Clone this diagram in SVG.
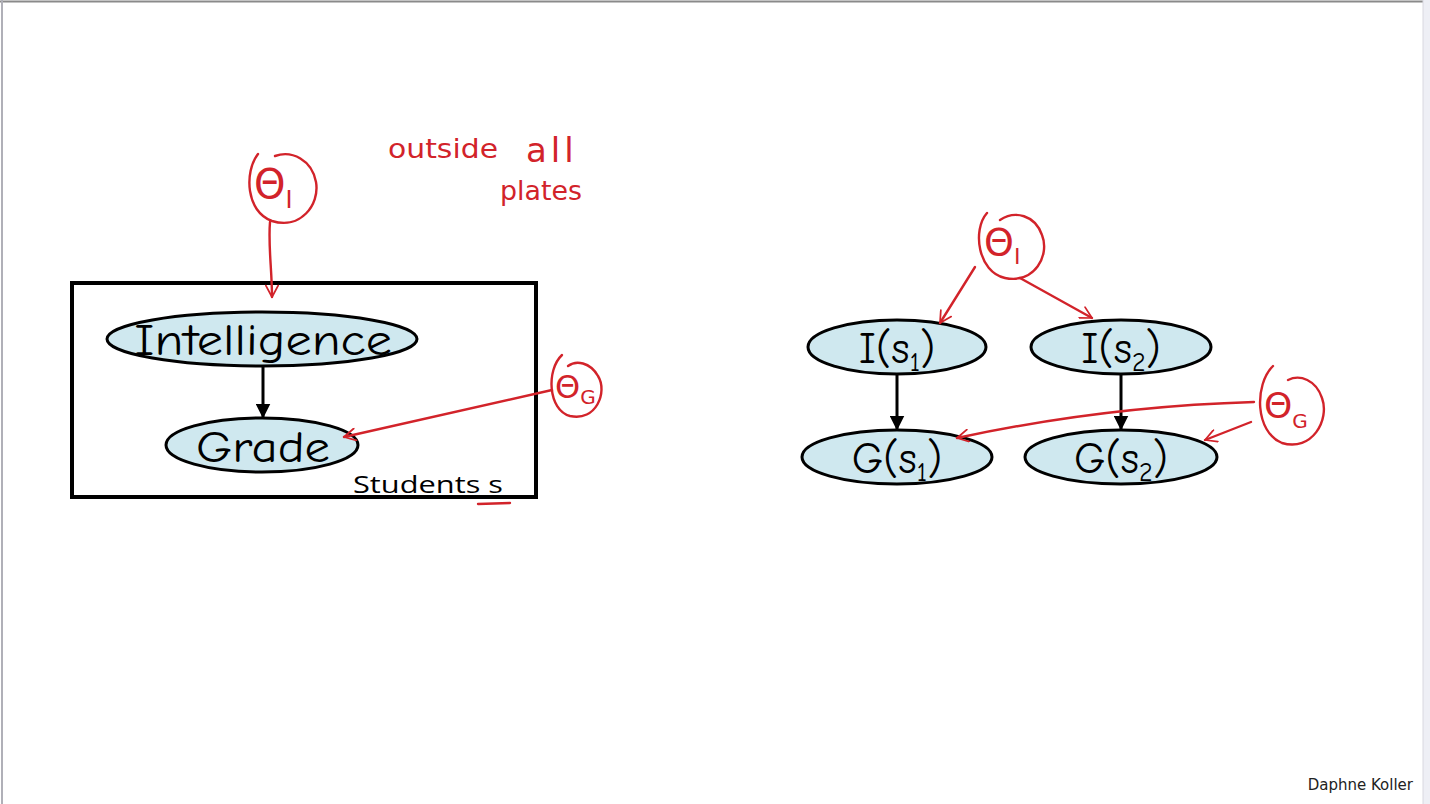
<svg xmlns="http://www.w3.org/2000/svg" width="1430" height="804" viewBox="0 0 1430 804">
<style>
.node{fill:#cfe8ef;stroke:#000;stroke-width:3}
.lbl{font-family:"Comic Neue","DejaVu Sans","Liberation Sans",sans-serif;fill:#000;text-anchor:middle}
.red{fill:none;stroke:#d2232a;stroke-width:2.4;stroke-linecap:round;stroke-linejoin:round}
.hand{font-family:"DejaVu Sans","Liberation Sans",sans-serif;fill:#d2232a}
.edge{stroke:#000;stroke-width:3;fill:none}
</style>
<defs>
<marker id="ah" viewBox="0 0 10 10" refX="9" refY="5" markerWidth="5" markerHeight="5" orient="auto">
<path d="M0 0 L10 5 L0 10 Z" fill="#000"/>
</marker>
<marker id="rh" viewBox="0 0 16 16" refX="15" refY="8" markerWidth="14" markerHeight="14" orient="auto" markerUnits="userSpaceOnUse">
<path d="M2 1 L15 8 L2 15" fill="none" stroke="#d2232a" stroke-width="2" stroke-linecap="round" stroke-linejoin="round"/>
</marker>
</defs>
<rect x="0" y="0" width="1430" height="804" fill="#fff"/>
<g id="frame">
<line x1="0" y1="1.5" x2="1423" y2="1.5" stroke="#8a8a8a" stroke-width="2"/>
<line x1="2" y1="0" x2="2" y2="804" stroke="#b0b0b8" stroke-width="2"/>
<rect x="1423" y="0" width="7" height="804" fill="#eeeff5"/>
<line x1="1423" y1="0" x2="1423" y2="804" stroke="#d8d8e0" stroke-width="1"/>
</g>

<g id="plate">
<rect x="72" y="283" width="464" height="214" fill="none" stroke="#000" stroke-width="4"/>
<text x="353" y="493" font-family="'Open Sans','Liberation Sans',sans-serif" font-size="23" fill="#000" textLength="150" lengthAdjust="spacingAndGlyphs">Students s</text>
<path class="red" d="M478 504 L510 503" stroke-width="3.5"/>
</g>

<g id="intelligence">
<ellipse class="node" cx="262" cy="339" rx="155" ry="27"/>
<text class="lbl" x="263" y="355" font-size="44" textLength="258" lengthAdjust="spacingAndGlyphs">Intelligence</text>
</g>
<g id="grade">
<ellipse class="node" cx="262" cy="445" rx="96" ry="27"/>
<text class="lbl" x="263" y="462" font-size="44" textLength="134" lengthAdjust="spacingAndGlyphs">Grade</text>
</g>

<g id="i_s1">
<ellipse class="node" cx="897" cy="347" rx="89" ry="27"/>
<text class="lbl" x="897" y="363" font-size="44">I(s<tspan font-size="26" dy="8">1</tspan><tspan dy="-8">)</tspan></text>
</g>
<g id="i_s2">
<ellipse class="node" cx="1121" cy="347" rx="90" ry="27"/>
<text class="lbl" x="1121" y="363" font-size="44">I(s<tspan font-size="26" dy="8">2</tspan><tspan dy="-8">)</tspan></text>
</g>
<g id="g_s1">
<ellipse class="node" cx="897" cy="457" rx="95" ry="27"/>
<text class="lbl" x="897" y="473" font-size="44">G(s<tspan font-size="26" dy="8">1</tspan><tspan dy="-8">)</tspan></text>
</g>
<g id="g_s2">
<ellipse class="node" cx="1121" cy="457" rx="96" ry="27"/>
<text class="lbl" x="1121" y="473" font-size="44">G(s<tspan font-size="26" dy="8">2</tspan><tspan dy="-8">)</tspan></text>
</g>

<g id="theta_i_left">
<path class="red" d="M258 154 C244 172 246 212 272 221 C300 230 320 205 316 182 C312 160 292 150 275 156"/>
<text class="hand" x="254" y="198" font-size="40">Θ<tspan font-size="24" dy="10">I</tspan></text>
</g>
<g id="theta_g_left">
<path class="red" d="M562 355 C546 370 548 410 570 416 C596 422 608 392 598 376 C590 362 576 360 568 366"/>
<text class="hand" x="555" y="398" font-size="32">Θ<tspan font-size="20" dy="6">G</tspan></text>
</g>
<g id="theta_i_right">
<path class="red" d="M987 213 C972 230 978 272 1005 278 C1035 284 1050 255 1042 235 C1035 215 1015 210 1000 220"/>
<text class="hand" x="984" y="255" font-size="38">Θ<tspan font-size="22" dy="9">I</tspan></text>
</g>
<g id="theta_g_right">
<path class="red" d="M1273 366 C1254 385 1255 432 1282 443 C1312 452 1330 420 1322 398 C1316 380 1300 374 1288 380"/>
<text class="hand" x="1264" y="418" font-size="36">Θ<tspan font-size="20" dy="10">G</tspan></text>
</g>

<g id="connectors">
<line class="edge" x1="263" y1="367" x2="263" y2="417" marker-end="url(#ah)"/>
<line class="edge" x1="897" y1="375" x2="897" y2="429" marker-end="url(#ah)"/>
<line class="edge" x1="1121" y1="375" x2="1121" y2="429" marker-end="url(#ah)"/>
<path class="red" d="M270 222 C268 245 272 270 272 297" marker-end="url(#rh)"/>
<path class="red" d="M552 390 L344 437" marker-end="url(#rh)"/>
<path class="red" d="M975 267 L940 323" marker-end="url(#rh)"/>
<path class="red" d="M1020 278 L1092 318" marker-end="url(#rh)"/>
<path class="red" d="M1254 402 C1150 405 1050 418 957 438" marker-end="url(#rh)"/>
<path class="red" d="M1251 422 L1205 440" marker-end="url(#rh)"/>
</g>

<g id="note">
<text class="hand" x="388" y="158" font-size="26" textLength="110" lengthAdjust="spacingAndGlyphs">outside</text>
<text class="hand" x="526" y="162" font-size="34" letter-spacing="4">all</text>
<text class="hand" x="500" y="200" font-size="26" textLength="82" lengthAdjust="spacingAndGlyphs">plates</text>
</g>

<text x="1413" y="790" text-anchor="end" font-family="'DejaVu Sans','Liberation Sans',sans-serif" font-size="15" fill="#222">Daphne Koller</text>
</svg>
